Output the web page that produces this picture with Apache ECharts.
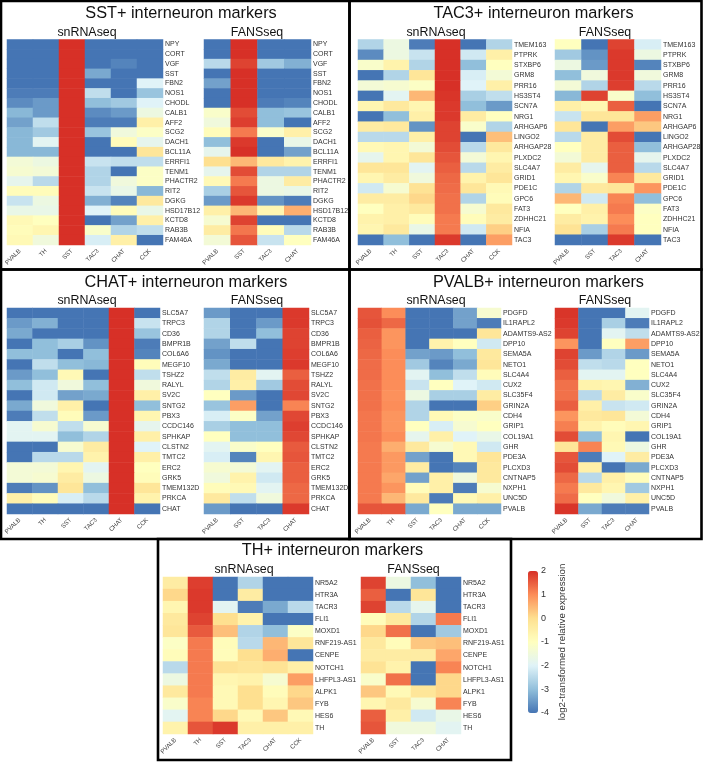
<!DOCTYPE html>
<html><head><meta charset="utf-8">
<style>html,body{margin:0;padding:0;background:#fff}#c{width:704px;height:762px}</style>
<script src="https://cdn.jsdelivr.net/npm/echarts@6/dist/echarts.min.js"></script>
</head><body><div id="c"></div>
<script>
const snCols = ['PVALB','TH','SST','TAC3','CHAT','CCK'];
const fansCols = ['PVALB','SST','TAC3','CHAT'];
const colorStops = ['#4575b4','#91bfdb','#e0f3f8','#ffffbf','#fee090','#fc8d59','#d73027'];
const scaleTicks = [-4,-3,-2,-1,0,1,2];

const sstGenes = ['NPY','CORT','VGF','SST','FBN2','NOS1','CHODL','CALB1','AFF2','SCG2','DACH1','BCL11A','ERRFI1','TENM1','PHACTR2','RIT2','DGKG','HSD17B12','KCTD8','RAB3B','FAM46A'];
const sstSn = [
[-4,-4,2,-4,-4,-4],[-4,-4,2,-4,-4,-4],[-4,-4,2,-4,-3.8,-4],[-4,-4,2,-3.3,-4,-4],[-4,-4,2,-4,-4,-2],
[-3.9,-3.9,2,-2.4,-4,-2.9],[-3.7,-3.5,2,-3,-2.8,-2],[-3.1,-3.5,2,-3.7,-3.5,-1.6],[-3.4,-2.4,2,-3.9,-3.9,-0.5],
[-3.1,-2.8,2,-2.9,-1.5,-1.1],[-3.1,-1.9,2,-4,-0.9,-1.8],[-3.1,-3.1,2,-4,-4,-0.2],[-1.4,-1.6,2,-2.3,-2.4,-2.4],
[-1.3,-1.4,2,-2.6,-4,-1.1],[-1.8,-2.5,2,-2.6,-1.5,-1.1],[-0.9,-0.9,2,-2.3,-1.7,-3.1],[-2.3,-1.6,2,-3.2,-3.8,-0.3],
[-1.7,-1.7,2,-2,-0.9,-1.7],[-0.8,-1,2,-4,-3.4,-0.5],[-0.9,-0.7,2,-1.2,-2.6,-2.4],[-0.8,-1.5,2,-2.1,-0.5,-4]];
const sstFans = [
[-4,2,-4,-4],[-4,2,-4,-4],[-2.5,1.8,-2.8,-3.2],[-4,2,-4,-4],[-3.4,2,-4,-4],[-4,2,-4,-4],[-4,2,-3.9,-3.8],
[-1.2,1.7,-3,-2.9],[-1.5,1.85,-3,-4],[-0.9,1.2,-1.2,-0.5],[-3,1.9,-4,-1.7],[-1.8,2,-4,-3.4],[0,0.5,-0.3,-0.6],
[-1.8,1.7,-2.6,-2.6],[-0.8,1.2,-1.6,-0.4],[-2.7,1.6,-1.6,-1.7],[-3.5,1.9,-3.6,-3.9],[-0.5,0.5,-0.7,0.6],
[-1.3,1.8,-4,-4],[-0.4,1.25,-0.9,-2.5],[-1.4,1.6,-2.3,-1]];

const tacGenes = ['TMEM163','PTPRK','STXBP6','GRM8','PRR16','HS3ST4','SCN7A','NRG1','ARHGAP6','LINGO2','ARHGAP28','PLXDC2','SLC4A7','GRID1','PDE1C','GPC6','FAT3','ZDHHC21','NFIA','TAC3'];
const tacSn = [
[-2.6,-1.6,-3.9,2,-4,-2.6],[-3.7,-1.6,-2.3,2,-2.2,-0.5],[-1.2,-0.6,-2.6,2,-3,-1],[-4,-2.6,-0.2,2,-2.1,-1.4],
[-1.4,-1.3,-1.1,2,-2,-0.5],[-4,-1.9,0.5,1.95,-2.7,-2.4],[-0.7,-0.3,-0.7,1.9,-3,-3.5],[-4,-3,-0.5,1.9,-0.4,-1],
[-0.4,-0.3,-3.6,1.8,-1.2,-2.6],[-2.5,-2.5,-0.5,1.8,-4,0.4],[-0.8,-0.7,-1.4,1.7,-2.5,-0.3],[-1.8,-0.7,-0.2,1.6,-1.4,-0.7],
[-0.2,-0.2,-1.9,1.5,-2.5,-0.4],[-0.7,-0.4,-1.5,1.4,-0.6,-0.2],[-2.2,-1.3,-0.1,1.35,-0.2,-0.8],[-0.4,-0.4,0.1,1.3,-2.6,-0.9],
[-1,-0.5,-0.3,1.3,-1.3,-0.3],[-0.6,-0.5,-0.9,1.2,-0.9,-0.4],[-0.7,-0.3,-1.7,1.2,-2.2,0.2],[-4,-3,-4,1.9,-4,0.8]];
const tacFans = [
[-1,-4,1.8,-2.1],[-2.8,-3.6,1.9,-1.6],[-1.6,-3.5,1.9,-3.8],[-3,-1.5,1.9,-1.5],[-1.4,-2.6,1.85,-2.5],[-3.1,1.8,-1.2,-3],
[-0.5,-0.7,1.5,-4],[-2.3,-0.2,-0.2,0.8],[-0.2,-4,0.8,0.3],[-2.5,-0.4,1.7,-4],[-1,-0.4,1.5,-3],[-1.4,-0.4,1.5,-1.8],
[-0.4,-1.8,1.5,-2.5],[-0.7,-1.2,1.1,-0.3],[-2.6,-0.3,-0.2,0.9],[0.5,-2.2,1.1,-3],[-1,-0.5,1.2,-1.1],[-0.4,-0.6,1,-1],
[-0.1,-2.7,1.2,-1],[-4,-4,1.9,-4]];

const chatGenes = ['SLC5A7','TRPC3','CD36','BMPR1B','COL6A6','MEGF10','TSHZ2','RALYL','SV2C','SNTG2','PBX3','CCDC146','SPHKAP','CLSTN2','TMTC2','ERC2','GRK5','TMEM132D','PRKCA','CHAT'];
const chatSn = [
[-4,-4,-4,-4,2,-4],[-3.5,-3.2,-4,-4,2,-2.3],[-3.3,-4,-4,-4,2,-2.9],[-4,-3,-2.7,-3.6,2,-3.9],[-3,-3,-4,-3,2,-3.8],
[-4,-2.4,-3,-3.1,2,-0.9],[-3.5,-3,-0.8,-4,2,-2.4],[-3,-2.2,-1.5,-3,2,-1.5],[-4,-2.2,-3.4,-3.3,2,-0.5],[-3.3,-1.5,-0.5,-4,2,-3],
[-3.9,-2.4,-0.9,-3.5,2,-0.7],[-1.9,-1.3,-2.4,-1.3,2,-1.8],[-1.9,-1.9,-3,-2.6,2,-0.5],[-4,-4,-1.3,-0.4,2,-2],[-4,-2.5,-2.5,-0.6,2,-0.5],
[-1.4,-1.4,-0.7,-1.9,2,-1],[-1.4,-1.3,-0.4,-1.6,2,-0.9],[-3.9,-3.6,-0.2,-3,2,-0.2],[-0.5,-0.9,-2.1,-2.5,2,-0.6],[-4,-4,-4,-4,2,-4]];
const chatFans = [
[-3.5,-4,-4,1.9],[-2.6,-4,-3.5,1.9],[-2.6,-4,-3,1.8],[-3.4,-2.4,-4,1.8],[-3.6,-4,-4,1.85],[-3.3,-4,-4,1.9],[-2.4,-0.4,-1.9,1.5],
[-2.6,-0.5,-2.8,1.7],[-1,-3.5,-4,1.75],[-2.9,0.8,-4,1.1],[-2.1,-1.1,-3.4,1.75],[-2.7,-3,-3,1.85],[-1,-3,-3,1.75],[-1.9,-1.2,-1,1.55],
[-2.1,-3.8,-0.7,1.6],[-1.3,-1.4,-1.9,1.5],[-1.5,-0.6,-2.2,1.5],[-0.9,-0.8,-1.9,1.4],[-0.3,-2.4,-1.5,1.4],[-3.5,-4,-4,1.9]];

const pvGenes = ['PDGFD','IL1RAPL2','ADAMTS9-AS2','DPP10','SEMA5A','NETO1','SLC4A4','CUX2','SLC35F4','GRIN2A','CDH4','GRIP1','COL19A1','GHR','PDE3A','PLCXD3','CNTNAP5','NXPH1','UNC5D','PVALB'];
const pvSn = [
[1.6,1,-4,-4,-3.4,-1.3],[1.65,1.4,-4,-4,-3.4,-3.9],[1.5,0.9,-4,-4,-4,-0.2],[1.45,0.9,-4,-0.6,-1,-2.2],[1.4,1,-3.4,-3.5,-3,-0.3],
[1.35,1,-2.8,-3.8,-3.3,-0.2],[1.35,1,-1.9,-3,-2.4,-0.9],[1.3,1,-2.3,-1,-2,-2.2],[1.3,0.95,-1.6,-2.7,-2.7,-0.4],[1.3,1,-2.6,-4,-4,0.2],
[1.25,0.9,-2.6,-0.8,-1.1,-1.2],[1.25,0.9,-1,-2.1,-1.3,-1],[1.25,1,-1.8,-0.5,-2,-1.7],[1.2,0.6,-0.3,-1.3,-0.8,-2.2],[1.2,0.85,-3.4,-4,-0.8,-0.2],
[1.2,0.85,-0.4,-4,-3.8,-0.3],[1.2,0.7,-3.4,-0.5,-1.5,-0.3],[1.2,0.9,-0.9,-0.5,-3.9,-1.3],[1.2,0.5,-0.3,-3.9,-0.8,-0.5],[1.6,1.6,-3.3,-1,-3.3,-3.3]];
const pvFans = [
[1.95,-4,-4,-1.9],[1.9,-4,-2.7,-3.9],[1.8,-4,-1.9,-2.4],[0.9,-4,-1,0.8],[1.8,-3.5,-2.6,-3.5],[1.7,-2.4,-2.5,-1],[1.5,-1.9,-1.9,-1],
[1.3,-0.6,-0.7,-3.2],[1.3,-2.5,-0.4,-1.2],[1.5,-0.5,-2.3,-2.2],[0.9,-0.3,-0.2,-1.4],[1.15,-0.6,-0.9,-0.7],[1.7,-3,-0.7,-4],[-0.2,1.1,-0.8,-1.6],
[1.6,-3.9,-2,-0.4],[1.7,-0.5,-4,-3.3],[1.4,-2.5,-0.5,-0.9],[1.2,-0.3,-0.7,-2.8],[1.35,-1,-1.5,-0.5],[1.95,-3.3,-3.9,-3.9]];

const thGenes = ['NR5A2','HTR3A','TACR3','FLI1','MOXD1','RNF219-AS1','CENPE','NOTCH1','LHFPL3-AS1','ALPK1','FYB','HES6','TH'];
const thSn = [
[-0.4,1.85,-4,-2.6,-4,-4],[0.1,1.9,-4,-0.4,-4,-4],[-0.7,1.9,-1.9,-3.9,-3.3,-2.5],[-0.3,1.8,0,-0.6,-4,-4],[-0.2,1.55,0.4,-2.6,-3,-1.1],
[-1.1,1.2,-0.9,-2.5,0.5,-0.2],[-0.9,1.2,-0.9,0,0.6,-4],[-2.5,1.2,-0.1,-0.2,-0.1,-0.5],[-1.6,1.2,-0.7,-0.6,-1.3,0.8],[-0.3,1.2,-0.8,0,-0.9,0.1],
[-1.2,1.1,-0.8,0,-0.7,0.3],[-1.9,1.1,0.1,-0.8,0.3,-0.8],[-0.6,1.6,1.9,-0.5,-0.5,-0.5]];
const thFans = [
[1.8,-1.6,-3,-4],[1.5,-4,-0.2,-4],[1.8,-2.5,-1.8,-4],[-0.9,-0.3,-2.6,1.2],[0.1,1.3,-4,-2.8],[-0.3,-0.9,0.3,0.4],[-0.4,-0.4,-0.4,0.7],
[-0.1,-0.6,-4,1.1],[-1.2,1.3,-4,0.1],[0.3,-0.8,-0.2,0.1],[-0.7,-0.3,-1.3,1.1],[1.5,-0.5,-2.2,-1.7],[1.6,-1.5,-1.5,-1.9]];

const panels = [
 {t:'SST+ interneuron markers', tx:181, ty:12, sub:[87,257], sy:32, g:sstGenes, y:[39.5,245], a:[7,163,sstSn], b:[204,311,sstFans]},
 {t:'TAC3+ interneuron markers', tx:533.5, ty:12, sub:[436,605], sy:32, g:tacGenes, y:[39.5,245], a:[358,512,tacSn], b:[555,661,tacFans]},
 {t:'CHAT+ interneuron markers', tx:186, ty:281, sub:[87,257], sy:300, g:chatGenes, y:[308,514], a:[7,160,chatSn], b:[204,309,chatFans]},
 {t:'PVALB+ interneuron markers', tx:538.5, ty:281, sub:[436,605], sy:300, g:pvGenes, y:[308,514], a:[358,501,pvSn], b:[555,649,pvFans]},
 {t:'TH+ interneuron markers', tx:332.5, ty:549, sub:[244,413.5], sy:569, g:thGenes, y:[577,734], a:[163,313,thSn], b:[361,461,thFans]}
];

const font = '"Liberation Sans", Arial, sans-serif';
const grid=[], xAxis=[], yAxis=[], series=[], title=[];
function addHeat(x0,x1,y0,y1,cols,genes,m){
  const i=grid.length;
  grid.push({left:x0,top:y0,width:x1-x0,height:y1-y0,containLabel:false});
  xAxis.push({type:'category',gridIndex:i,data:cols,position:'bottom',axisLine:{show:false},axisTick:{show:false},splitLine:{show:false},
    axisLabel:{interval:0,rotate:45,fontSize:6.2,color:'#444',fontFamily:font,margin:5}});
  yAxis.push({type:'category',gridIndex:i,data:genes,inverse:true,position:'right',axisLine:{show:false},axisTick:{show:false},splitLine:{show:false},
    axisLabel:{interval:0,fontSize:7,color:'#333',fontFamily:font,margin:2}});
  const d=[];
  m.forEach((row,r)=>row.forEach((v,c)=>d.push([c,r,v])));
  series.push({type:'heatmap',xAxisIndex:i,yAxisIndex:i,data:d,silent:true,progressive:0,itemStyle:{borderWidth:0}});
}
function label(text,cx,cy,fs){
  title.push({text,left:cx,top:cy-fs*0.4,padding:0,textAlign:'center',textStyle:{fontSize:fs,fontWeight:'normal',color:'#111',fontFamily:font}});
}
panels.forEach(p=>{
  label(p.t,p.tx,p.ty,16.3);
  label('snRNAseq',p.sub[0],p.sy,12.4);
  label('FANSseq',p.sub[1],p.sy,12.4);
  addHeat(p.a[0],p.a[1],p.y[0],p.y[1],snCols,p.g,p.a[2]);
  addHeat(p.b[0],p.b[1],p.y[0],p.y[1],fansCols,p.g,p.b[2]);
});
// colour-scale axis
const ci=grid.length;
grid.push({left:528,top:571,width:10,height:142});
xAxis.push({type:'value',gridIndex:ci,show:false,min:0,max:1});
yAxis.push({type:'value',gridIndex:ci,position:'right',min:scaleTicks[0],max:scaleTicks[scaleTicks.length-1],interval:1,
  axisLine:{show:false},axisTick:{show:false},splitLine:{show:false},
  axisLabel:{fontSize:9,color:'#333',fontFamily:font,margin:3,formatter:v=>String(v)},
  name:'log2-transformed relative expression',nameLocation:'middle',nameRotate:90,nameGap:19,
  nameTextStyle:{fontSize:9.7,color:'#333',fontFamily:font}});

function frame(x,y,w,h){return {type:'rect',silent:true,z:100,shape:{x,y,width:w,height:h},style:{fill:'none',stroke:'#000',lineWidth:2.6}};}
const chart=echarts.init(document.getElementById('c'),null,{renderer:'canvas'});
chart.setOption({
  animation:false,backgroundColor:'#fff',
  title,grid,xAxis,yAxis,series,
  visualMap:{type:'continuous',min:scaleTicks[0],max:scaleTicks[scaleTicks.length-1],left:528,top:571,itemWidth:10,itemHeight:142,padding:0,
    calculable:false,realtime:false,text:null,showLabel:false,seriesIndex:series.map((_,i)=>i),inRange:{color:colorStops},textStyle:{fontSize:1,color:'transparent'}},
  graphic:[frame(1,1,348.5,268.5),frame(349.5,1,352,268.5),frame(1,269.5,348.5,269.5),frame(349.5,269.5,352,269.5),frame(158,539,353,221)]
});
</script></body></html>
